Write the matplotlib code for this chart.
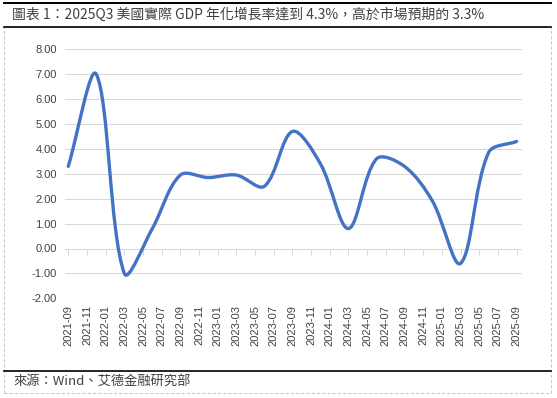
import numpy as np
import matplotlib.pyplot as plt
from matplotlib.path import Path
from matplotlib.patches import PathPatch, Rectangle
from matplotlib.lines import Line2D

plt.rcParams['font.family'] = ['Liberation Sans', 'Noto Sans CJK TC', 'DejaVu Sans']

# quarterly US real GDP growth, annualized (%)
quarters = ['2021-09', '2021-12', '2022-03', '2022-06', '2022-09', '2022-12',
            '2023-03', '2023-06', '2023-09', '2023-12', '2024-03', '2024-06',
            '2024-09', '2024-12', '2025-03', '2025-06', '2025-09']
gdp = [3.3, 7.0, -1.0, 0.8, 2.95, 2.85, 2.95, 2.5, 4.7, 3.4, 0.8, 3.6,
       3.3, 1.9, -0.6, 3.85, 4.3]

tick_labels = ['2021-09', '2021-11', '2022-01', '2022-03', '2022-05', '2022-07',
               '2022-09', '2022-11', '2023-01', '2023-03', '2023-05', '2023-07',
               '2023-09', '2023-11', '2024-01', '2024-03', '2024-05', '2024-07',
               '2024-09', '2024-11', '2025-01', '2025-03', '2025-05', '2025-07',
               '2025-09']
y_ticks = [-2, -1, 0, 1, 2, 3, 4, 5, 6, 7, 8]

title = '圖表 1：2025Q3 美國實際 GDP 年化增長率達到 4.3%，高於市場預期的 3.3%'
source = '來源：Wind、艾德金融研究部'


def month_pos(lbl):
    y, m = lbl.split('-')
    return (int(y) - 2021) * 12 + int(m) - 9


x = np.array([month_pos(q) for q in quarters], dtype=float)
y = np.array(gdp)
tick_pos = [month_pos(t) for t in tick_labels]

W, H = 557, 398
fig = plt.figure(figsize=(W / 100, H / 100), dpi=100)
ax = fig.add_axes([65 / W, 1 - 298.3 / H, (521.7 - 65) / W, (298.3 - 49.3) / H])
ax.set_xlim(-0.35, 48.55)
ax.set_ylim(-2, 8)

# smoothed line like the spreadsheet one: bezier through every point,
# handle lengths weighted by the chord lengths on screen
pts = ax.transData.transform(np.column_stack([x, y]))
ext = np.vstack([pts[0], pts, pts[-1]])
verts = [pts[0]]
codes = [Path.MOVETO]
for i in range(len(pts) - 1):
    p0, p1, p2, p3 = ext[i], ext[i + 1], ext[i + 2], ext[i + 3]
    d01 = np.hypot(*(p1 - p0))
    d12 = np.hypot(*(p2 - p1))
    d23 = np.hypot(*(p3 - p2))
    f1 = d12 / (d01 + d12) / 3 if d01 > 0 else 1 / 3
    f2 = d12 / (d12 + d23) / 3 if d23 > 0 else 1 / 3
    verts += [p1 + (p2 - p0) * f1, p2 - (p3 - p1) * f2, p2]
    codes += [Path.CURVE4] * 3
verts = ax.transData.inverted().transform(np.array(verts))
ax.add_patch(PathPatch(Path(verts, codes), fill=False, edgecolor='#4472C4',
                       lw=2.4, capstyle='round', joinstyle='round', zorder=3))

ax.set_yticks(y_ticks)
ax.set_yticklabels(['%.2f' % v for v in y_ticks])
ax.set_xticks(tick_pos)
ax.set_xticklabels(tick_labels, rotation=90)
ax.tick_params(axis='y', length=0, pad=6, labelsize=8, labelcolor='#404040')
ax.tick_params(axis='x', length=0, pad=5, labelsize=8, labelcolor='#404040')
ax.grid(axis='y', color='#D9D9D9', lw=0.75)
ax.set_axisbelow(True)
for s in ax.spines.values():
    s.set_visible(False)

# tick marks on the zero line
ax.plot(tick_pos, np.zeros(len(tick_pos)), linestyle='none', marker=3,
        markersize=4, markeredgecolor='#D9D9D9', markeredgewidth=0.75)

# frame lines
fig.add_artist(Line2D([4 / W, 551 / W], [1 - 3.3 / H] * 2, color='black', lw=1.4))
fig.add_artist(Line2D([4 / W, 551 / W], [1 - 26.7 / H] * 2, color='black', lw=1.2))
fig.add_artist(Line2D([4 / W, 551 / W], [1 - 371 / H] * 2, color='black', lw=1.2))
fig.add_artist(Rectangle((4.3 / W, 1 - 393.3 / H), 546.4 / W, 366.3 / H,
                         transform=fig.transFigure, fill=False, edgecolor='#C8C8C8',
                         lw=0.75, linestyle=(0, (3, 2))))

fig.text(12 / W, 1 - 15 / H, title, fontsize=10, color='#404040', va='center',
         family=['Noto Sans CJK TC', 'DejaVu Sans'])
fig.text(13 / W, 1 - 382.3 / H, source, fontsize=9.5, color='#404040', va='center',
         family=['Noto Sans CJK TC', 'DejaVu Sans'])

fig.savefig('out.png', dpi=100)
